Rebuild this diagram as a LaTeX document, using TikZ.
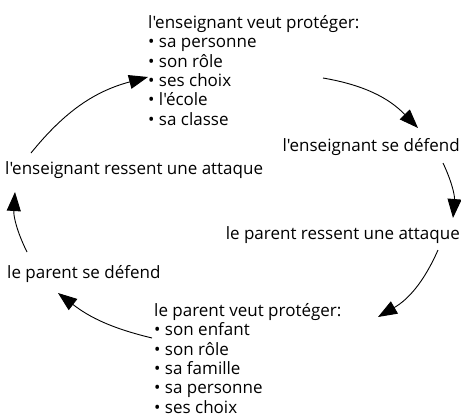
\documentclass[tikz,border=0pt]{standalone}
\usepackage{fontspec}
\setmainfont{Open Sans}[Ligatures=TeXOff]
\usetikzlibrary{arrows.meta}
\tikzset{
  lbl/.style={inner sep=0pt, font=\fontsize{17}{19.3}\selectfont},
  blk/.style={lbl, align=left},
  cyc/.style={-{Triangle[length=19pt,width=14pt]}, line width=0.9pt},
}
\begin{document}
\begin{tikzpicture}[x=1pt,y=-1pt]
\useasboundingbox (0,0) rectangle (461,416);
\node[blk, anchor=base west] (top) at (148,125) {l'enseignant veut protéger:\\
• sa personne\\ • son rôle\\ • ses choix\\ • l'école\\ • sa classe};
\node[lbl, anchor=base east] (esd) at (460,151) {l'enseignant se défend};
\node[lbl, anchor=base west] (era) at (5,174) {l'enseignant ressent une attaque};
\node[lbl, anchor=base east] (pra) at (460,239) {le parent ressent une attaque};
\node[lbl, anchor=base west] (psd) at (7,278) {le parent se défend};
\node[blk, anchor=base west] (bot) at (154,413) {le parent veut protéger:\\
• son enfant\\ • son rôle\\ • sa famille\\ • sa personne\\ • ses choix};
\coordinate (a1s) at (323,78);  \coordinate (a1e) at (418,128);
\coordinate (a2s) at (443,163); \coordinate (a2e) at (453,218);
\coordinate (a3s) at (438,250); \coordinate (a3e) at (378,317);
\coordinate (a4s) at (152,338); \coordinate (a4e) at (58,293);
\coordinate (a5s) at (27,252);  \coordinate (a5e) at (15,192);
\coordinate (a6s) at (31,153);  \coordinate (a6e) at (148,77);
\draw[cyc] (a1s) to[bend left=18] (a1e);
\draw[cyc] (a2s) to[bend left=15] (a2e);
\draw[cyc] (a3s) to[bend left=18] (a3e);
\draw[cyc] (a4s) to[bend left=12] (a4e);
\draw[cyc] (a5s) to[bend left=15] (a5e);
\draw[cyc] (a6s) to[bend left=18] (a6e);
\end{tikzpicture}
\end{document}
